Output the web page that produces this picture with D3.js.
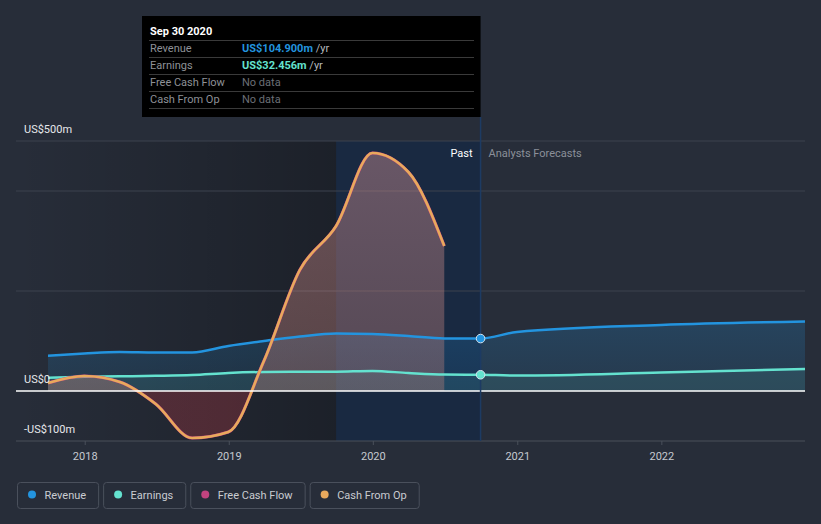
<!DOCTYPE html>
<html><head><meta charset="utf-8">
<script src="https://cdn.jsdelivr.net/npm/d3@7"></script>
<style>
body{margin:0;background:#272d39;}
svg{display:block;font-family:Roboto,"Open Sans",Arial,sans-serif;}
</style>
</head><body>
<svg id="c" width="821" height="524"></svg>
<script>
// ---------- data ----------
const pastDates = ["2017-09-30","2017-12-31","2018-03-31","2018-06-30","2018-09-30","2018-12-31",
  "2019-03-31","2019-06-30","2019-09-30","2019-12-31","2020-03-31","2020-06-30","2020-09-30"];
const revenuePast  = [70.6, 75, 78, 77, 77, 90, 100, 109, 115, 114, 110, 105, 104.9];
const earningsPast = [26.6, 28.4, 29.4, 30.4, 32, 36, 38, 38.4, 38.6, 40, 36, 33, 32.456];
const cashDates = pastDates.slice(0, 12);
const cashFromOp   = [16, 30, 18, -26, -94, -82, 60, 242, 330, 476, 438, 290];
const freeCashFlow = [16, 30, 18, -26, -94, -82, 60, 242, 330, 476, 438, 290];
const forecastDates = ["2020-09-30","2020-12-31","2021-12-31","2022-12-31"];
const revenueForecast  = [104.9, 118, 132, 139];
const earningsForecast = [32.456, 31, 37, 44];
const yLabelValues = [500, 0, -100];
const yLabelTexts  = ["US$500m", "US$0", "-US$100m"];
const gridValues = [500, 400, 200];
const xTickYears = [2018, 2019, 2020, 2021, 2022];
const legendNames = ["Revenue", "Earnings", "Free Cash Flow", "Cash From Op"];
const legendColors = ["#2394df", "#64e2cf", "#c2437f", "#e8a95d"];
const tipRows = [
  {label:"Revenue", value:"US$104.900m", unit:" /yr", color:"#2394df"},
  {label:"Earnings", value:"US$32.456m", unit:" /yr", color:"#64e2cf"},
  {label:"Free Cash Flow", value:"No data", unit:"", color:"#6b6f76"},
  {label:"Cash From Op", value:"No data", unit:"", color:"#6b6f76"}
];
const tipTitle = "Sep 30 2020";
const hoverDate = "2020-09-30", bandStart = "2019-09-30";

// ---------- setup ----------
const parse = d3.timeParse("%Y-%m-%d");
const svg = d3.select("#c");
const x = d3.scaleTime().domain([parse("2017-09-30"), parse("2022-12-31")]).range([48, 805]);
const y = d3.scaleLinear().domain([-100, 500]).range([441, 141]);
const L = 16, R = 805;

const defs = svg.append("defs");
const dark = defs.append("linearGradient").attr("id","dark").attr("gradientUnits","userSpaceOnUse")
  .attr("x1", L).attr("x2", x(parse(bandStart))).attr("y1",0).attr("y2",0);
dark.append("stop").attr("offset",0).attr("stop-color","#000").attr("stop-opacity",0);
dark.append("stop").attr("offset",1).attr("stop-color","#000").attr("stop-opacity",0.28);

const cg = defs.append("linearGradient").attr("id","cg").attr("gradientUnits","userSpaceOnUse")
  .attr("x1",0).attr("x2",0).attr("y1",y(500)).attr("y2",y(-100));
const z = (y(0)-y(500))/(y(-100)-y(500));
[[0,"#d9989c",0.42],[z,"#c08078",0.36],[z,"#c83a45",0.28],[1,"#c83a45",0.28]].forEach(s=>
  cg.append("stop").attr("offset",s[0]).attr("stop-color",s[1]).attr("stop-opacity",s[2]));

const rg = defs.append("linearGradient").attr("id","rg").attr("gradientUnits","userSpaceOnUse")
  .attr("x1",0).attr("x2",0).attr("y1",y(140)).attr("y2",y(0));
rg.append("stop").attr("offset",0).attr("stop-color","#2394df").attr("stop-opacity",0.22);
rg.append("stop").attr("offset",1).attr("stop-color","#2394df").attr("stop-opacity",0.12);

// backgrounds
svg.append("rect").attr("x",L).attr("y",y(500)).attr("width",x(parse(bandStart))-L)
  .attr("height",y(-100)-y(500)).attr("fill","url(#dark)");
svg.append("rect").attr("x",x(parse(bandStart))).attr("y",y(500))
  .attr("width",x(parse(hoverDate))-x(parse(bandStart))).attr("height",y(-100)-y(500))
  .attr("fill","#06224d").attr("fill-opacity",0.4);

// grid
svg.selectAll(".grid").data(gridValues).enter().append("line")
  .attr("x1",L).attr("x2",R).attr("y1",d=>y(d)).attr("y2",d=>y(d))
  .attr("stroke","#3c424e").attr("stroke-width",1);

// x axis
const xAxis = d3.axisBottom(x).tickValues(xTickYears.map(v=>new Date(v,0,1)))
  .tickFormat(d3.timeFormat("%Y")).tickSize(4).tickSizeOuter(0);
const ga = svg.append("g").attr("transform",`translate(0,${y(-100)})`).call(xAxis);
ga.select(".domain").remove();
ga.selectAll(".tick line").attr("stroke","#4a505b");
ga.selectAll(".tick text").attr("fill","#c5c9d0").attr("font-size",11).attr("dy","1.1em")
  .attr("font-family","Roboto,sans-serif");
svg.append("line").attr("x1",L).attr("x2",R).attr("y1",y(-100)).attr("y2",y(-100))
  .attr("stroke","#4a505b");

// series
const revData = pastDates.map((d,i)=>({d:parse(d),v:revenuePast[i]}))
  .concat(forecastDates.slice(1).map((d,i)=>({d:parse(d),v:revenueForecast[i+1]})));
const earnData = pastDates.map((d,i)=>({d:parse(d),v:earningsPast[i]}))
  .concat(forecastDates.slice(1).map((d,i)=>({d:parse(d),v:earningsForecast[i+1]})));
const cashData = cashDates.map((d,i)=>({d:parse(d),v:cashFromOp[i]}));
const fcfData = cashDates.map((d,i)=>({d:parse(d),v:freeCashFlow[i]}));

const area = d3.area().x(d=>x(d.d)).y0(y(0)).y1(d=>y(d.v)).curve(d3.curveMonotoneX);
const line = d3.line().x(d=>x(d.d)).y(d=>y(d.v)).curve(d3.curveMonotoneX);

svg.append("path").datum(revData).attr("d",area).attr("fill","url(#rg)");
svg.append("path").datum(earnData).attr("d",area).attr("fill","#64e2cf").attr("fill-opacity",0.1);
svg.append("path").datum(cashData).attr("d",area).attr("fill","url(#cg)");

svg.append("path").datum(revData).attr("d",line).attr("fill","none")
  .attr("stroke","#2394df").attr("stroke-width",2.5);
svg.append("path").datum(earnData).attr("d",line).attr("fill","none")
  .attr("stroke","#64e2cf").attr("stroke-width",2.5);
svg.append("path").datum(fcfData).attr("d",line).attr("fill","none")
  .attr("stroke","#c2437f").attr("stroke-width",3.1);
svg.append("path").datum(cashData).attr("d",line).attr("fill","none")
  .attr("stroke","#e8aa5c").attr("stroke-width",2.6);

// zero line
svg.append("line").attr("x1",L).attr("x2",R).attr("y1",y(0)).attr("y2",y(0))
  .attr("stroke","#ffffff").attr("stroke-width",1.3);

// hover line
svg.append("line").attr("x1",x(parse(hoverDate))).attr("x2",x(parse(hoverDate)))
  .attr("y1",117).attr("y2",y(-100)).attr("stroke","#1d3b63").attr("stroke-width",1.5);

// hover points
[[revenuePast[12],"#2394df"],[earningsPast[12],"#64e2cf"]].forEach(p=>{
  svg.append("circle").attr("cx",x(parse(hoverDate))).attr("cy",y(p[0])).attr("r",4.3)
    .attr("fill",p[1]).attr("stroke","#d8e6f0").attr("stroke-width",1);
});

// y labels
svg.selectAll(".yl").data(yLabelValues).enter().append("text")
  .attr("x",24).attr("y",d=>y(d)-8).attr("fill","#e6e8eb").attr("font-size",11)
  .text((d,i)=>yLabelTexts[i]);

// past / forecast labels
svg.append("text").attr("x",x(parse(hoverDate))-8).attr("y",157).attr("text-anchor","end")
  .attr("fill","#ffffff").attr("font-size",11).text("Past");
svg.append("text").attr("x",x(parse(hoverDate))+8).attr("y",157)
  .attr("fill","#8b909a").attr("font-size",11).text("Analysts Forecasts");

// tooltip
const tx = 142, ty = 16, tw = x(parse(hoverDate)) - 142, th = 101;
svg.append("rect").attr("x",tx).attr("y",ty).attr("width",tw).attr("height",th).attr("fill","#000");
svg.append("text").attr("x",150).attr("y",34.5).attr("fill","#fff").attr("font-size",11)
  .attr("font-weight","bold").text(tipTitle);
[40.5,57.5,74.5,91.5,108.5].forEach(yy=>svg.append("line").attr("x1",149).attr("x2",474)
  .attr("y1",yy).attr("y2",yy).attr("stroke","#3a3a3a").attr("stroke-width",1));
tipRows.forEach((r,i)=>{
  const yy = 52 + i*17;
  svg.append("text").attr("x",150).attr("y",yy).attr("fill","#8e9197").attr("font-size",11).text(r.label);
  const t = svg.append("text").attr("x",242).attr("y",yy).attr("font-size",11);
  t.append("tspan").attr("fill",r.color).attr("font-weight",r.unit?"bold":"normal").text(r.value);
  if (r.unit) t.append("tspan").attr("fill","#b5b8bd").text(r.unit);
});

// legend
const lg = svg.append("g");
let lx = 17;
legendNames.forEach((n,i)=>{
  const g = lg.append("g").attr("transform",`translate(${lx},482)`);
  const txt = g.append("text").attr("x",27.5).attr("y",16.5).attr("fill","#c9ccd1")
    .attr("font-size",11).text(n);
  const w = txt.node().getComputedTextLength() + 27.5 + 12;
  g.insert("rect","text").attr("x",0.5).attr("y",0.5).attr("width",w).attr("height",26)
    .attr("rx",3).attr("fill","none").attr("stroke","#4a505c");
  g.append("circle").attr("cx",15).attr("cy",12.5).attr("r",4).attr("fill",legendColors[i]);
  lx += w + 5;
});
</script>
</body></html>
